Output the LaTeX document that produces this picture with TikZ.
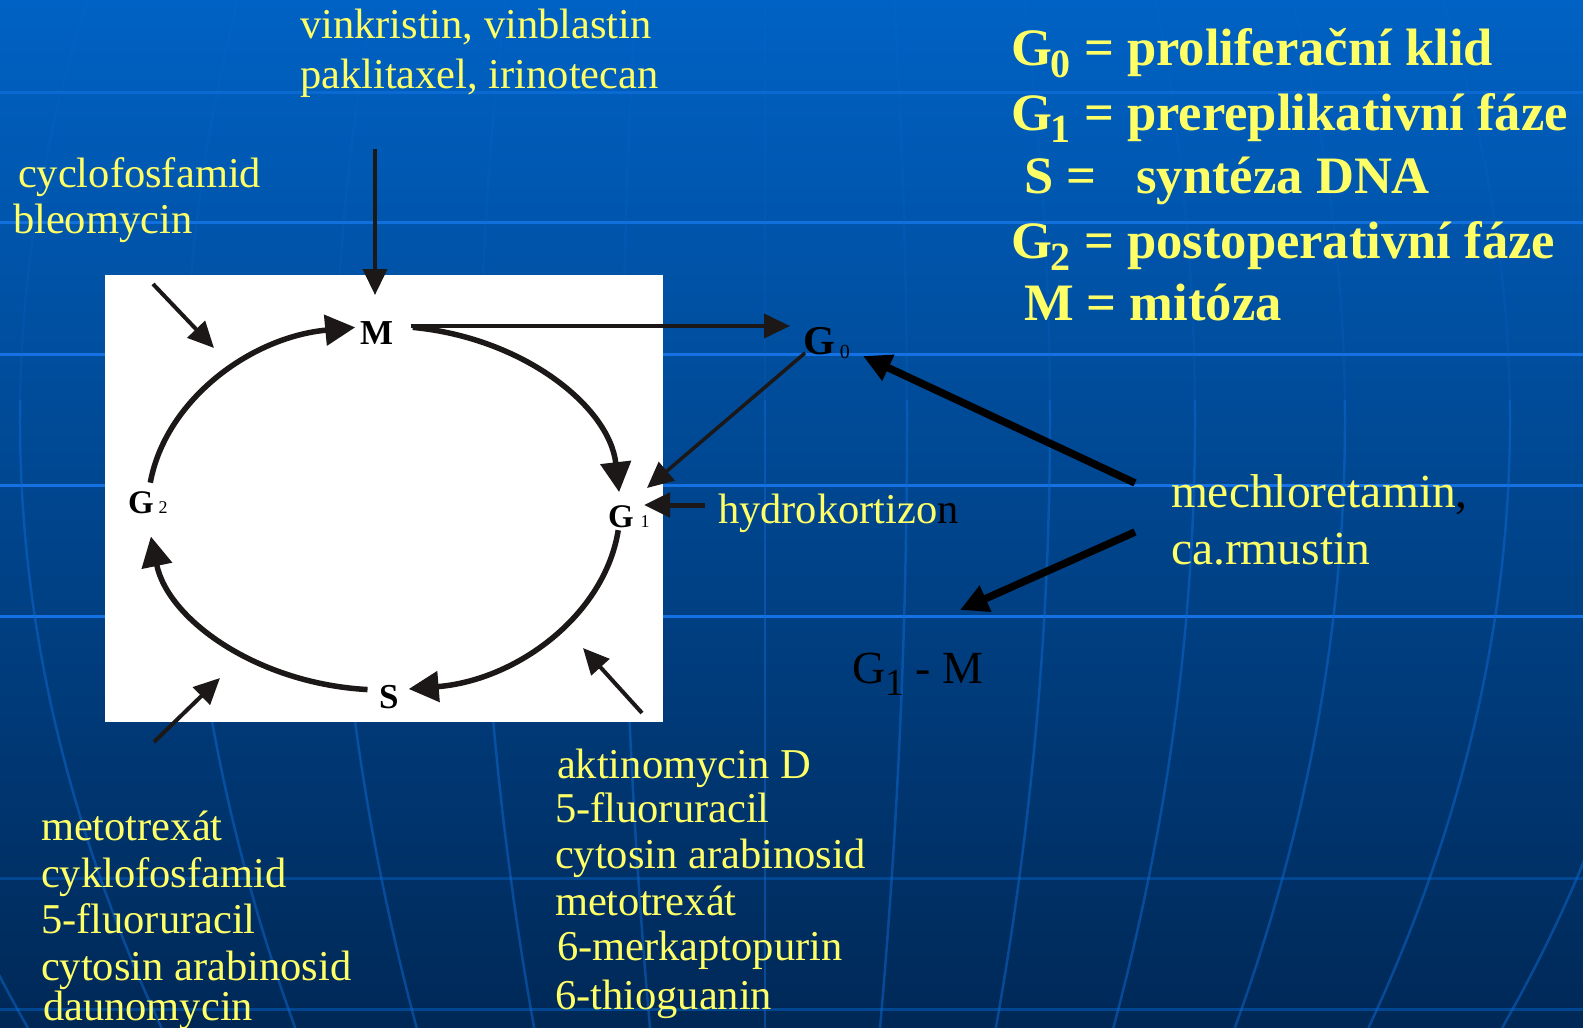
\documentclass[tikz,border=0pt]{standalone}
\usepackage{fontspec}
\setmainfont{Liberation Serif}
\usetikzlibrary{arrows.meta}
\definecolor{yel}{RGB}{255,255,102}
\definecolor{ink}{RGB}{28,24,24}
\definecolor{bgtop}{RGB}{0,98,196}
\definecolor{bgmid}{RGB}{0,78,158}
\definecolor{bgbot}{RGB}{0,40,86}
\definecolor{hlA}{RGB}{10,106,210}
\definecolor{hlB}{RGB}{18,112,222}
\definecolor{hlC}{RGB}{20,114,228}
\definecolor{hlD}{RGB}{0,70,145}
\definecolor{vl}{RGB}{15,105,210}
\begin{document}
\begin{tikzpicture}[x=1pt,y=1pt,
  drug/.style={inner sep=0pt, outer sep=0pt, anchor=base west, text=yel, font=\fontsize{42.5}{46}\selectfont},
  bigdrug/.style={drug, font=\fontsize{47.5}{50}\selectfont},
  legend/.style={inner sep=0pt, outer sep=0pt, anchor=base west, text=yel, font=\fontsize{52.6}{60}\selectfont\bfseries},
  phase/.style={inner sep=0pt, outer sep=0pt, anchor=base west, text=black, font=\fontsize{35}{35}\selectfont\bfseries},
  cycarrow/.style={draw=ink, line width=5.5pt, -{Triangle[length=30pt,width=30pt]}},
  thinarrow/.style={draw=ink, line width=4pt, -{Triangle[length=26pt,width=24pt]}},
  heavyarrow/.style={draw=black, line width=7.5pt, -{Triangle[length=28pt,width=27pt]}},
  gridv/.style={draw=vl, line width=2.5pt},
]
\useasboundingbox (0,0) rectangle (1583,-1028);
% background
\shade[top color=bgtop, middle color=bgmid, bottom color=bgbot] (0,0) rectangle (1583,-1028);
\foreach \yy/\cc in {92/hlA, 222/hlB, 354/hlC, 485/hlC, 616/hlC, 878/hlD, 1009/hlD}
  \draw[line width=3pt, draw=\cc] (0,-\yy) -- (1583,-\yy);
\begin{scope}
  \clip (0,0) rectangle (1583,-400);
  \foreach \o in {-910,-745,-580,-430,-285,-142,0,142,285,430,580,745,910}
    \draw[gridv, opacity=0.18] plot[variable=\t, domain=0:1028, samples=30, smooth]
      ({765+\o*(1-0.19*((\t-420)/608)^2)}, {-\t});
\end{scope}
\begin{scope}
  \clip (0,-400) rectangle (1583,-1028);
  \foreach \o in {-910,-745,-580,-430,-285,-142,0,142,285,430,580,745,910}
    \draw[gridv, opacity=0.5] plot[variable=\t, domain=0:1028, samples=30, smooth]
      ({765+\o*(1-0.19*((\t-420)/608)^2)}, {-\t});
\end{scope}

% white panel
\node[fill=white, minimum width=558pt, minimum height=447pt, anchor=north west, inner sep=0pt, outer sep=0pt] (panel) at (105,-275) {};

% phase labels
\node[phase] (M) at (360,-344) {M};
\node[phase, font=\fontsize{41}{41}\selectfont\bfseries] (G0) at (803,-354) {G\hspace{5pt}\raisebox{-4pt}{\fontsize{20}{20}\selectfont\mdseries 0}};
\node[phase, font=\fontsize{33}{33}\selectfont\bfseries] (G1) at (608,-527) {G\hspace{7pt}{\fontsize{18}{18}\selectfont\mdseries 1}};
\node[phase, font=\fontsize{33}{33}\selectfont\bfseries] (G2) at (128,-513) {G\hspace{5pt}{\fontsize{18}{18}\selectfont\mdseries 2}};
\node[phase] (S) at (379,-708) {S};
\node[inner sep=0pt, anchor=base west, text=black, font=\fontsize{46}{46}\selectfont] (G1M) at (852,-683) {G\raisebox{-12pt}{\fontsize{38}{38}\selectfont 1} - M};

% cycle arcs (ellipse centre (384,-508), radii 236 x 182)
\coordinate (mOut)  at ({384+236*cos(83)}, {-508+182*sin(83)});
\coordinate (g1Out) at ({384+236*cos(-7)}, {-508+182*sin(-7)});
\coordinate (sOut)  at ({384+236*cos(266)}, {-508+182*sin(266)});
\coordinate (g2Out) at ({384+236*cos(172)}, {-508+182*sin(172)});
\draw[cycarrow] (mOut)  arc[start angle=83,  end angle=5,   x radius=236, y radius=182];
\draw[cycarrow] (g1Out) arc[start angle=-7,  end angle=-84, x radius=236, y radius=182];
\draw[cycarrow] (sOut)  arc[start angle=266, end angle=189, x radius=236, y radius=182];
\draw[cycarrow] (g2Out) arc[start angle=172, end angle=97,  x radius=236, y radius=182];

% drug texts
\node[drug] (vink) at (300,-38) {vinkristin, vinblastin};
\node[drug] (pakl) at (300,-88) {paklitaxel, irinotecan};
\node[drug] (cycl) at (18,-187) {cyclofosfamid};
\node[drug] (bleo) at (13,-233) {bleomycin};
\node[drug] (hydro) at (718,-523) {hydrokortizo\textcolor{black}{n}};
\node[bigdrug] (mech) at (1171,-507) {mechloretamin\textcolor{black}{,}};
\node[bigdrug] (carm) at (1171,-564) {ca.rmustin};

\node[drug] (bl1) at (41,-840) {metotrexát};
\node[drug] (bl2) at (41,-887) {cyklofosfamid};
\node[drug] (bl3) at (41,-933) {5-fluoruracil};
\node[drug] (bl4) at (41,-980) {cytosin arabinosid};
\node[drug] (bl5) at (43,-1020) {daunomycin};

\node[drug] (br1) at (557,-778) {aktinomycin D};
\node[drug] (br2) at (555,-822) {5-fluoruracil};
\node[drug] (br3) at (555,-868) {cytosin arabinosid};
\node[drug] (br4) at (555,-915) {metotrexát};
\node[drug] (br5) at (557,-960) {6-merkaptopurin};
\node[drug] (br6) at (555,-1009) {6-thioguanin};

% legend
\node[legend] (L1) at (1011,-65) {G\hspace{-1pt}\raisebox{-12pt}{\fontsize{40}{40}\selectfont 0} = proliferační klid};
\node[legend] (L2) at (1011,-130) {G\hspace{-1pt}\raisebox{-12pt}{\fontsize{40}{40}\selectfont 1} = prereplikativní fáze};
\node[legend] (L3) at (1024,-193) {S =\hspace{40pt}syntéza DNA};
\node[legend] (L4) at (1011,-258) {G\hspace{-1pt}\raisebox{-12pt}{\fontsize{40}{40}\selectfont 2} = postoperativní fáze};
\node[legend] (L5) at (1024,-320) {M = mitóza};

% arrow end points
\coordinate (vinkS) at (375,-149);  \coordinate (vinkE) at (375,-295);
\coordinate (cyclS) at (153,-284);  \coordinate (cyclE) at (214,-348);
\coordinate (mg0S)  at (411,-326);  \coordinate (mg0E)  at (790,-326);
\coordinate (g0g1S) at (805,-353);  \coordinate (g0g1E) at (647,-488);
\coordinate (mechA) at (1135,-483); \coordinate (mechAE) at (863,-356);
\coordinate (mechB) at (1135,-532); \coordinate (mechBE) at (960,-610);
\coordinate (hydS)  at (705,-505);  \coordinate (hydE)  at (644,-505);
\coordinate (aktS)  at (642,-713);  \coordinate (aktE)  at (583,-648);
\coordinate (metS)  at (154,-742);  \coordinate (metE)  at (220,-678);

\draw[thinarrow] (vinkS) -- (vinkE);
\draw[thinarrow] (cyclS) -- (cyclE);
\draw[thinarrow] (mg0S) -- (mg0E);
\draw[thinarrow, line width=3.5pt] (g0g1S) -- (g0g1E);
\draw[heavyarrow] (mechA) -- (mechAE);
\draw[heavyarrow] (mechB) -- (mechBE);
\draw[thinarrow, line width=5pt] (hydS) -- (hydE);
\draw[thinarrow] (aktS) -- (aktE);
\draw[thinarrow] (metS) -- (metE);
\end{tikzpicture}
\end{document}
